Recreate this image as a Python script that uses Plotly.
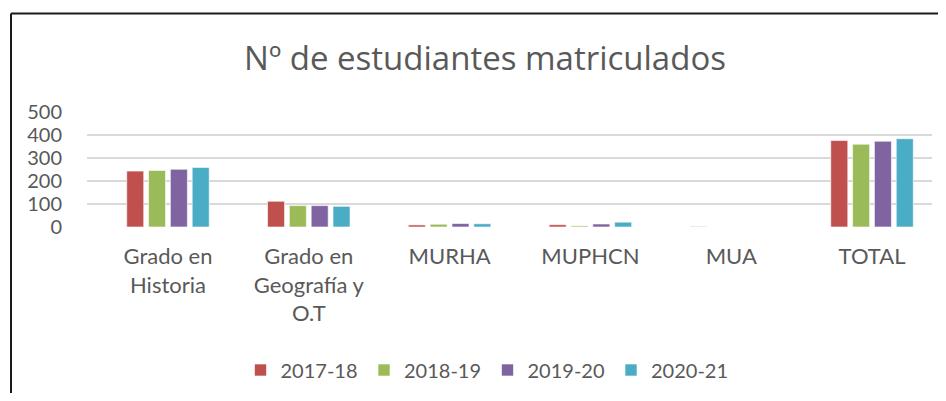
import plotly.graph_objects as go

# page body has an 8px margin; size the figure so the page fits the 946x401 window
OFF = 8
W, H = 930, 385

categories = ["Grado en<br>Historia", "Grado en<br>Geografía y<br>O.T", "MURHA", "MUPHCN", "MUA", "TOTAL"]
series_names = ["2017-18", "2018-19", "2019-20", "2020-21"]
v_2017_18 = [243, 112, 9, 10, 2, 376]
v_2018_19 = [246, 93, 12, 5, 0, 360]
v_2019_20 = [251, 93, 15, 13, 0, 373]
v_2020_21 = [259, 90, 14, 21, 0, 384]
colors = ["#C0504D", "#9BBB59", "#8064A2", "#4BACC6"]
y_ticks = [0, 100, 200, 300, 400, 500]

FONT = "Lato"
TXT = "#595959"


def px_x(v):
    return (v - OFF) / W


def px_y(v):
    return 1 - (v - OFF) / H


fig = go.Figure()
for name, vals, col in zip(series_names, [v_2017_18, v_2018_19, v_2019_20, v_2020_21], colors):
    fig.add_trace(go.Bar(
        name=name, x=categories, y=vals,
        marker=dict(color=col, line=dict(color="rgba(255,255,255,0.6)", width=1)),
    ))

fig.update_layout(
    width=W, height=H,
    margin=dict(l=0, r=0, t=0, b=0, autoexpand=False),
    paper_bgcolor="white", plot_bgcolor="white",
    barmode="group", bargap=0.38, bargroupgap=0.22,
    font=dict(family=FONT, color=TXT, size=19),
    title=dict(text="Nº de estudiantes matriculados", x=px_x(485), xanchor="center",
               y=px_y(58), yanchor="middle",
               font=dict(family="Open Sans", size=33, color=TXT)),
    xaxis=dict(domain=[px_x(87), px_x(932)], range=[-0.575, 5.426], automargin=False,
               showgrid=False, showline=False, zeroline=False, ticks="",
               ticklabelstandoff=14, tickfont=dict(size=22, color=TXT)),
    yaxis=dict(domain=[px_y(227), px_y(112)], range=[0, 500], tickvals=y_ticks, automargin=False,
               showgrid=True, gridcolor="#D9D9D9", gridwidth=1.5,
               zeroline=False, showline=False, ticks="",
               ticklabelstandoff=24, tickfont=dict(size=20, color=TXT)),
    legend=dict(orientation="h", x=px_x(262 - 20.5 + OFF - 9), xanchor="left", y=px_y(370), yanchor="middle",
                font=dict(size=20, color=TXT), entrywidth=78.5, entrywidthmode="pixels",
                itemwidth=30, traceorder="normal"),
    shapes=[
        dict(type="line", xref="paper", yref="paper", x0=px_x(11), x1=1.0, y0=px_y(13.5), y1=px_y(13.5),
             line=dict(color="#1a1a1a", width=2)),
        dict(type="line", xref="paper", yref="paper", x0=px_x(11), x1=px_x(11), y0=0, y1=px_y(13.5),
             line=dict(color="#1a1a1a", width=2)),
    ],
)

fig.write_html("out.html")
